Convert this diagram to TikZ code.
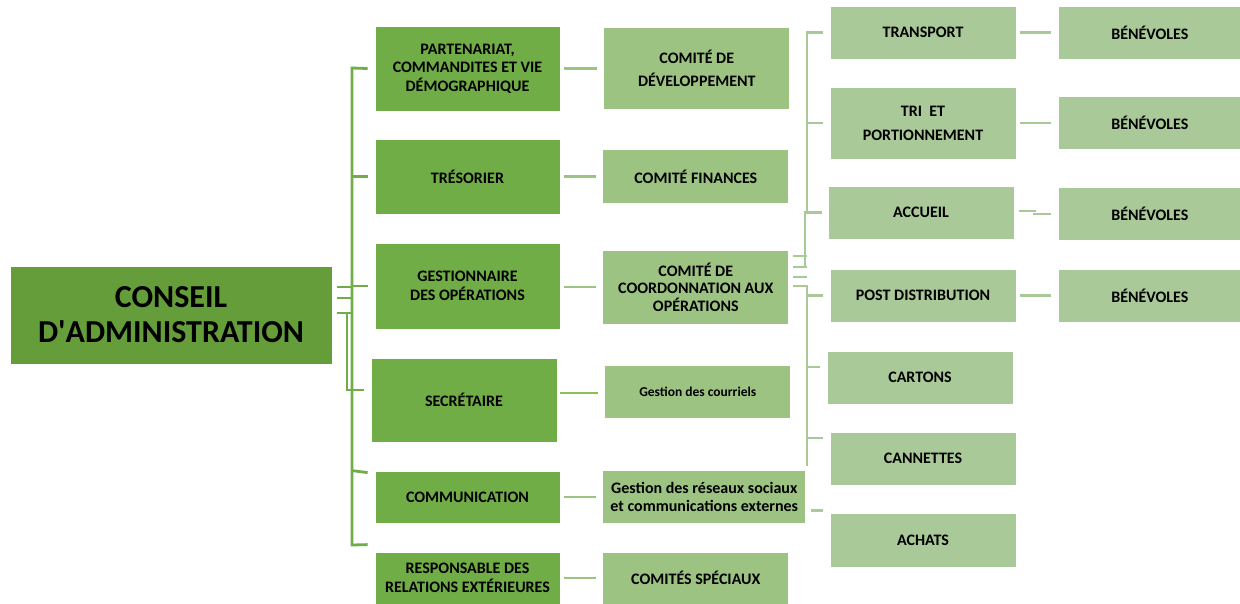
\documentclass[tikz,border=0pt]{standalone}
\usepackage{fontspec}
\setmainfont{Carlito}
\definecolor{ca_dark}{RGB}{101, 157, 59}
\definecolor{ca_mid}{RGB}{112, 173, 71}
\definecolor{ca_soft}{RGB}{157, 195, 131}
\definecolor{ca_pale}{RGB}{169, 201, 152}
\definecolor{ca_lime}{RGB}{141, 190, 84}
\usepackage{tikz}
\usetikzlibrary{positioning, calc}

\begin{document}
\begin{tikzpicture}[
        x=1pt, y=-1pt,
        box/.style={draw=white, line width=0.8pt, rectangle, align=center,
                    minimum width=185pt, inner sep=2pt,
                    font=\fontsize{16}{18.5}\selectfont\bfseries},
        lvl1/.style={box, fill=ca_mid},
        lvl2/.style={box, fill=ca_soft, minimum width=186pt},
        lvl3/.style={box, fill=ca_pale, minimum width=186pt, minimum height=53pt},
        lien1/.style={ca_mid, line width=2.8pt},
        lien2/.style={ca_soft, line width=2.8pt},
        lien3/.style={ca_pale, line width=2.8pt},
      ]
        \useasboundingbox (0,0) rectangle (1240,603);

        \node[box, fill=ca_dark, minimum width=322pt, minimum height=98pt,
              font=\fontsize{32}{35}\selectfont\bfseries] (conseil) at (171,315)
              {CONSEIL\\D\textquotesingle ADMINISTRATION};

        % postes du conseil
        \node[lvl1, minimum height=85pt] (partner) at (467.5,68.5) {PARTENARIAT,\\COMMANDITES ET VIE\\DÉMOGRAPHIQUE};
        \node[lvl1, minimum height=75pt] (tresor) at (467.5,176.5) {TRÉSORIER};
        \node[lvl1, minimum height=86pt] (gestion) at (467.5,286) {GESTIONNAIRE\\DES OPÉRATIONS};
        \node[lvl1, minimum height=84pt, minimum width=186pt] (secr) at (464,400) {SECRÉTAIRE};
        \node[lvl1, minimum height=52pt] (comm) at (467.5,497) {COMMUNICATION};
        \node[lvl1, minimum height=52pt] (resp) at (467.5,578) {RESPONSABLE DES\\RELATIONS EXTÉRIEURES};

        % comités
        \node[lvl2, minimum height=82pt, right=43pt of partner,
              font=\fontsize{16}{23}\selectfont\bfseries] (devel) {COMITÉ DE\\DÉVELOPPEMENT};
        \node[lvl2, minimum height=54pt, right=42pt of tresor] (fin) {COMITÉ FINANCES};
        \node[lvl2, minimum height=74pt, right=42pt of gestion, yshift=-1pt,
              font=\fontsize{16}{17.5}\selectfont\bfseries] (coord) {COMITÉ DE\\COORDONNATION AUX\\OPÉRATIONS};
        \node[lvl2, minimum height=53pt, right=47pt of secr, yshift=8.5pt,
              font=\fontsize{13.5}{16}\selectfont\bfseries] (courriels) {Gestion des courriels};
        \node[lvl2, minimum height=53pt, minimum width=203pt, right=42pt of comm] (reseaux) {Gestion des réseaux sociaux\\et communications externes};
        \node[lvl2, minimum height=52pt, right=42pt of resp] (speciaux) {COMITÉS SPÉCIAUX};

        % opérations
        \node[lvl3] (transport) at (923,32.5) {TRANSPORT};
        \node[lvl3, minimum height=72pt, font=\fontsize{16}{24}\selectfont\bfseries] (tri) at (923,123) {TRI\ \ ET\\PORTIONNEMENT};
        \node[lvl3] (accueil) at (921,212.5) {ACCUEIL};
        \node[lvl3] (post) at (923,295.5) {POST DISTRIBUTION};
        \node[lvl3] (cartons) at (920,377.5) {CARTONS};
        \node[lvl3] (cannettes) at (923,458.5) {CANNETTES};
        \node[lvl3, minimum height=54pt] (achats) at (923,540) {ACHATS};

        \node[lvl3, minimum width=182pt, right=42pt of transport] (ben1) {BÉNÉVOLES};
        \node[lvl3, minimum width=182pt, right=42pt of tri] (ben2) {BÉNÉVOLES};
        \node[lvl3, minimum width=182pt, right=44pt of accueil, yshift=-1.5pt] (ben3) {BÉNÉVOLES};
        \node[lvl3, minimum width=182pt, right=42pt of post] (ben4) {BÉNÉVOLES};

        % arbre du conseil
        \coordinate (tronc) at (352,68);
        \draw[lien1] ($(partner.west)+(-7,0)$) -- (tronc) -- (352,545) -- ($(resp.north west)+(-7,-7)$);
        \foreach \n in {tresor, gestion}
          \draw[lien1] (tronc |- \n.west) -- ($(\n.west)+(-7,0)$);
        \draw[lien1] (tronc |- comm.north) -- ($(comm.north west)+(-7,2)$);
        \foreach \dy in {-28,-17,-2}
          \draw[lien1] ($(conseil.east)+(5,\dy)$) -- +(15,0);
        \draw[lien1] ($(conseil.east)+(5,-2)$) -| (347,390) -- ($(secr.west)+(-7,-10)$);

        % postes vers comités
        \foreach \a/\b in {partner/devel, tresor/fin, gestion/coord, comm/reseaux, resp/speciaux}
          \draw[lien2] ($(\a.east |- \b.west)+(4,0)$) -- ($(\b.west)+(-6,0)$);
        \draw[ca_lime, line width=2.8pt] ($(secr.east |- courriels.west)+(3,1.5)$) -- ($(courriels.west)+(-6,1.5)$);

        % arbre des opérations
        \coordinate (axe) at (807,286);
        \draw[lien3] ($(transport.west)+(-7,0)$) -- (807,32.5) -- (807,212.5) -- ($(accueil.west)+(-6,0)$);
        \draw[lien3] (807,123) -- ($(tri.west)+(-7,0)$);
        \draw[lien3] (805,211) -- (805,268);
        \foreach \dy in {-31,-20,-10}
          \draw[lien3] ($(coord.east)+(4,\dy)$) -- +(14,0);
        \draw[lien3] ($(coord.east |- axe)+(4,0)$) -- (axe) -- (807,466);
        \foreach \n/\dy in {post/0, cartons/-10.5, cannettes/-20.5}
          \draw[lien3] ($(axe |- \n.west)+(0,\dy)$) -- ($(\n.west)+(-7,\dy)$);
        \draw[lien3] ($(reseaux.east)+(5,13.5)$) -- ($(achats.west |- reseaux.east)+(-7,13.5)$);

        % bénévoles
        \foreach \a/\b in {transport/ben1, tri/ben2, post/ben4}
          \draw[lien3] ($(\a.east |- \b.west)+(4,0)$) -- ($(\b.west)+(-7,0)$);
        \draw[lien3] ($(accueil.east)+(5,-1.5)$) -- +(17,0);
        \draw[lien3] ($(ben3.west)+(-7,0)$) -- +(-18,0);
      \end{tikzpicture}
\end{document}
